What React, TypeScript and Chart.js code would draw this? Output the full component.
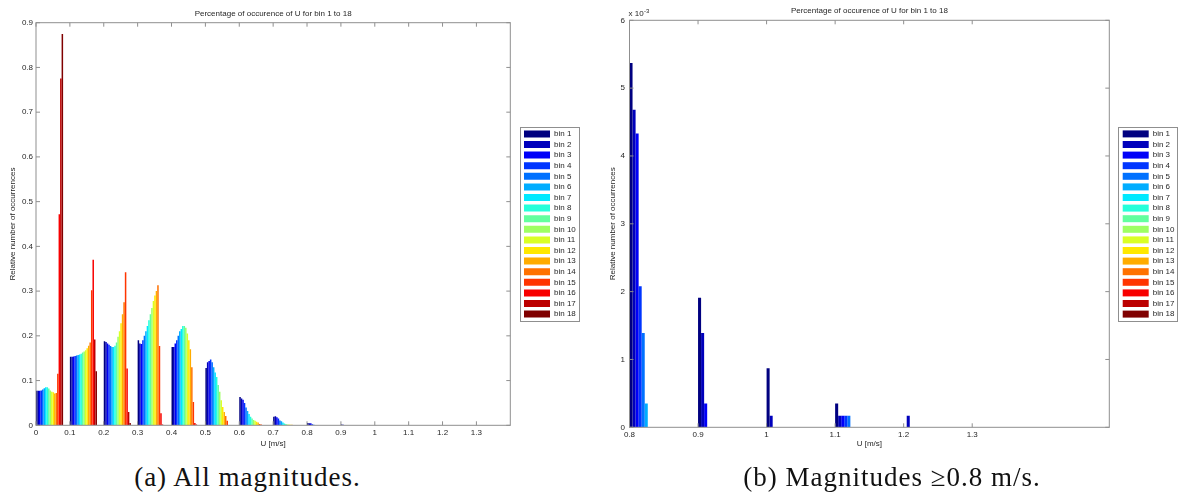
import React, { useEffect, useRef } from 'react';
import { Chart, registerables } from 'chart.js';

Chart.register(...registerables);
Chart.defaults.font.family = '"Liberation Sans", Arial, Helvetica, sans-serif';

// ---------- data ----------
const binLabels = [
  'bin 1', 'bin 2', 'bin 3', 'bin 4', 'bin 5', 'bin 6', 'bin 7', 'bin 8', 'bin 9',
  'bin 10', 'bin 11', 'bin 12', 'bin 13', 'bin 14', 'bin 15', 'bin 16', 'bin 17', 'bin 18',
];

// U classes (left edge of each group of 18 bars), m/s
const groupsA = [0, 0.1, 0.2, 0.3, 0.4, 0.5, 0.6, 0.7, 0.8, 0.9, 1.0, 1.1, 1.2];
const groupsB = [0.8, 0.9, 1.0, 1.1, 1.2];

// relative occurrences per class, one value per bin (1..18)
const u00 = [0.077, 0.077, 0.077, 0.078, 0.080, 0.083, 0.085, 0.085, 0.082, 0.078, 0.075, 0.074, 0.071, 0.072, 0.115, 0.472, 0.775, 0.875];
const u01 = [0.153, 0.153, 0.154, 0.155, 0.156, 0.157, 0.158, 0.160, 0.163, 0.165, 0.168, 0.172, 0.178, 0.185, 0.302, 0.370, 0.192, 0.121];
const u02 = [0.188, 0.186, 0.183, 0.180, 0.177, 0.175, 0.175, 0.178, 0.185, 0.198, 0.210, 0.228, 0.248, 0.275, 0.342, 0.127, 0.030, 0.005];
const u03 = [0.190, 0.183, 0.182, 0.190, 0.200, 0.210, 0.222, 0.235, 0.248, 0.262, 0.278, 0.290, 0.300, 0.313, 0.177, 0.027, 0.002, 0];
const u04 = [0.175, 0.175, 0.183, 0.190, 0.200, 0.210, 0.215, 0.222, 0.222, 0.218, 0.205, 0.190, 0.170, 0.130, 0.052, 0.005, 0.002, 0];
const u05 = [0.128, 0.141, 0.144, 0.147, 0.141, 0.130, 0.118, 0.108, 0.090, 0.075, 0.056, 0.041, 0.030, 0.021, 0.010, 0, 0, 0];
const u06 = [0.063, 0.060, 0.057, 0.050, 0.040, 0.032, 0.025, 0.019, 0.015, 0.012, 0.010, 0.008, 0.006, 0.003, 0.002, 0, 0, 0];
const u07 = [0.019, 0.020, 0.018, 0.015, 0.011, 0.009, 0.006, 0.004, 0.003, 0.002, 0.002, 0.001, 0.001, 0, 0, 0, 0, 0];
// magnitudes >= 0.8 m/s, in units of 1e-3
const u08e3 = [5.37, 4.68, 4.33, 2.08, 1.39, 0.35, 0, 0, 0, 0, 0, 0, 0, 0, 0, 0, 0, 0];
const u09e3 = [1.91, 1.39, 0.35, 0, 0, 0, 0, 0, 0, 0, 0, 0, 0, 0, 0, 0, 0, 0];
const u10e3 = [0.87, 0.17, 0, 0, 0, 0, 0, 0, 0, 0, 0, 0, 0, 0, 0, 0, 0, 0];
const u11e3 = [0.35, 0.17, 0.17, 0.17, 0.17, 0, 0, 0, 0, 0, 0, 0, 0, 0, 0, 0, 0, 0];
const u12e3 = [0, 0.17, 0, 0, 0, 0, 0, 0, 0, 0, 0, 0, 0, 0, 0, 0, 0, 0];

const xTicksA = [0, 0.1, 0.2, 0.3, 0.4, 0.5, 0.6, 0.7, 0.8, 0.9, 1, 1.1, 1.2, 1.3];
const yTicksA = [0, 0.1, 0.2, 0.3, 0.4, 0.5, 0.6, 0.7, 0.8, 0.9];
const xTicksB = [0.8, 0.9, 1, 1.1, 1.2, 1.3];
const yTicksB = [0, 1, 2, 3, 4, 5, 6];

const TITLE = 'Percentage of occurence of U for bin 1 to 18';
const YLABEL = 'Relative number of occurrences';
const XLABEL = 'U [m/s]';

// ---------- styling ----------
const TEXT = '#262626';
const AXIS = '#8f8f8f';
const GROUP_HALF = 0.04; // groups span [edge, edge + 0.08]

function jet(t: number) {
  const c = (v: number) => Math.round(255 * Math.max(0, Math.min(1, v)));
  return `rgb(${c(1.5 - Math.abs(4 * t - 3))},${c(1.5 - Math.abs(4 * t - 2))},${c(1.5 - Math.abs(4 * t - 1))})`;
}

const valuesA = [u00, u01, u02, u03, u04, u05, u06, u07,
  u08e3.map(v => v / 1000), u09e3.map(v => v / 1000), u10e3.map(v => v / 1000),
  u11e3.map(v => v / 1000), u12e3.map(v => v / 1000)];
const valuesB = [u08e3, u09e3, u10e3, u11e3, u12e3];

function buildDatasets(groups: number[], values: number[][]) {
  return binLabels.map((label, b) => ({
    label,
    data: groups.map((g, j) => ({ x: g + GROUP_HALF, y: values[j][b] })),
    backgroundColor: jet(b / (binLabels.length - 1)),
    borderWidth: 0,
    categoryPercentage: 0.8,
    barPercentage: 1.0,
  }));
}

const framePlugin = {
  id: 'frame',
  afterDatasetsDraw(chart: any, _args: any, opts: any) {
    const { ctx, chartArea: a, scales } = chart;
    ctx.save();
    ctx.strokeStyle = AXIS;
    ctx.lineWidth = 1;
    ctx.strokeRect(a.left, a.top, a.right - a.left, a.bottom - a.top);
    const tl = 4;
    ctx.beginPath();
    for (const t of scales.x.ticks) {
      const px = scales.x.getPixelForValue(t.value);
      ctx.moveTo(px, a.bottom); ctx.lineTo(px, a.bottom - tl);
      ctx.moveTo(px, a.top); ctx.lineTo(px, a.top + tl);
    }
    for (const t of scales.y.ticks) {
      const py = scales.y.getPixelForValue(t.value);
      ctx.moveTo(a.left, py); ctx.lineTo(a.left + tl, py);
      ctx.moveTo(a.right, py); ctx.lineTo(a.right - tl, py);
    }
    ctx.stroke();
    if (opts && opts.exponent) {
      ctx.fillStyle = TEXT;
      ctx.textBaseline = 'alphabetic';
      ctx.textAlign = 'left';
      ctx.font = '8px "Liberation Sans", Arial, sans-serif';
      const base = 'x 10';
      ctx.fillText(base, a.left - 1, a.top - 4);
      const w = ctx.measureText(base).width;
      ctx.font = '6px "Liberation Sans", Arial, sans-serif';
      ctx.fillText(opts.exponent, a.left - 1 + w + 0.5, a.top - 7);
    }
    ctx.restore();
  },
};

const legendBoxPlugin = {
  id: 'legendBox',
  afterDraw(chart: any) {
    const lg = chart.legend;
    if (!lg || !lg.legendHitBoxes || !lg.legendHitBoxes.length) return;
    const hb = lg.legendHitBoxes;
    let l = Infinity, r = -Infinity, t = Infinity, b = -Infinity;
    for (const h of hb) {
      l = Math.min(l, h.left); r = Math.max(r, h.left + h.width);
      t = Math.min(t, h.top); b = Math.max(b, h.top + h.height);
    }
    const { ctx } = chart;
    ctx.save();
    ctx.strokeStyle = AXIS;
    ctx.lineWidth = 1;
    ctx.strokeRect(Math.round(l - 4.5) + 0.5, Math.round(t - 3.3) + 0.5, Math.round(r - l + 7), Math.round(b - t + 6.2));
    ctx.restore();
  },
};

interface PanelCfg {
  groups: number[]; values: number[][];
  xMin: number; xMax: number; xTicks: number[];
  yMax: number; yTicks: number[];
  yAxisWidth: number; yTitlePad: number; yTickPad: number;
  xAxisHeight: number; xTickPad: number;
  titlePadTop: number; titlePadBottom: number;
  gap: number; padRight: number; exponent?: string;
}

function makeConfig(p: PanelCfg): any {
  const font8 = { size: 8 };
  return {
    type: 'bar',
    data: { datasets: buildDatasets(p.groups, p.values) },
    plugins: [framePlugin, legendBoxPlugin],
    options: {
      animation: false,
      responsive: false,
      devicePixelRatio: 1,
      layout: { padding: { left: 0, top: 0, right: p.padRight, bottom: 0 } },
      plugins: {
        tooltip: { enabled: false },
        frame: { exponent: p.exponent },
        title: {
          display: true, text: TITLE, color: TEXT, fullSize: false,
          font: { size: 8, weight: 'normal' },
          padding: { top: p.titlePadTop, bottom: p.titlePadBottom },
        },
        legend: {
          position: 'right',
          maxWidth: 62,
          labels: { boxWidth: 26, boxHeight: 7, padding: 2.6, font: font8, color: TEXT },
        },
      },
      scales: {
        x: {
          type: 'linear', min: p.xMin, max: p.xMax, offset: false,
          afterBuildTicks: (s: any) => { s.ticks = p.xTicks.map(v => ({ value: v })); },
          afterFit: (s: any) => { s.height = p.xAxisHeight; },
          grid: { display: false, drawTicks: false, offset: false },
          border: { display: false },
          ticks: { color: TEXT, font: font8, padding: p.xTickPad, autoSkip: false, maxRotation: 0, callback: (v: number) => String(v) },
          title: { display: true, text: XLABEL, color: TEXT, font: { size: 8, lineHeight: 1 }, padding: 0 },
        },
        y: {
          type: 'linear', min: 0, max: p.yMax,
          afterBuildTicks: (s: any) => { s.ticks = p.yTicks.map(v => ({ value: v })); },
          afterFit: (s: any) => { s.width = p.yAxisWidth; },
          grid: { display: false, drawTicks: false },
          border: { display: false },
          ticks: { color: TEXT, font: font8, padding: p.yTickPad, autoSkip: false, callback: (v: number) => String(v) },
          title: { display: true, text: YLABEL, color: TEXT, font: font8, padding: { top: p.yTitlePad, bottom: 0 } },
        },
        yr: {
          type: 'linear', position: 'right', display: true,
          grid: { display: false, drawTicks: false },
          border: { display: false },
          ticks: { display: false },
          afterFit: (s: any) => { s.width = p.gap; },
        },
      },
    },
  };
}

const configA = makeConfig({
  groups: groupsA, values: valuesA,
  xMin: 0, xMax: 1.4, xTicks: xTicksA,
  yMax: 0.9, yTicks: yTicksA,
  yAxisWidth: 36, yTitlePad: 7.9, yTickPad: 3,
  xAxisHeight: 22.7, xTickPad: 2.2,
  titlePadTop: 8.5, titlePadBottom: 4.6,
  gap: 11.1, padRight: 6.6,
});

const configB = makeConfig({
  groups: groupsB, values: valuesB,
  xMin: 0.8, xMax: 1.5, xTicks: xTicksB,
  yMax: 6, yTicks: yTicksB,
  yAxisWidth: 44.5, yTitlePad: 22.7, yTickPad: 4.5,
  xAxisHeight: 20.7, xTickPad: 2.9,
  titlePadTop: 5.9, titlePadBottom: 4.8,
  gap: 10.8, padRight: 2.9, exponent: '-3',
});

const captionStyle: React.CSSProperties = {
  position: 'absolute', top: 461, height: 32, lineHeight: '32px', textAlign: 'center',
  fontFamily: '"Liberation Serif", "Times New Roman", serif', fontSize: 27, letterSpacing: 1,
  color: '#111', whiteSpace: 'nowrap',
};

export default function App() {
  const refA = useRef<HTMLCanvasElement>(null);
  const refB = useRef<HTMLCanvasElement>(null);
  useEffect(() => {
    const ca = new Chart(refA.current as HTMLCanvasElement, configA);
    const cb = new Chart(refB.current as HTMLCanvasElement, configB);
    return () => { ca.destroy(); cb.destroy(); };
  }, []);
  return (
    <div style={{ position: 'absolute', left: 0, top: 0, width: 1180, height: 499, overflow: 'hidden', background: '#fff' }}>
      <canvas ref={refA} width={590} height={448} style={{ position: 'absolute', left: 0, top: 0 }} />
      <canvas ref={refB} width={600} height={448} style={{ position: 'absolute', left: 585, top: 0 }} />
      <div style={{ ...captionStyle, left: 0, width: 495 }}>(a) All magnitudes.</div>
      <div style={{ ...captionStyle, left: 592, width: 600 }}>(b) Magnitudes ≥0.8 m/s.</div>
    </div>
  );
}
